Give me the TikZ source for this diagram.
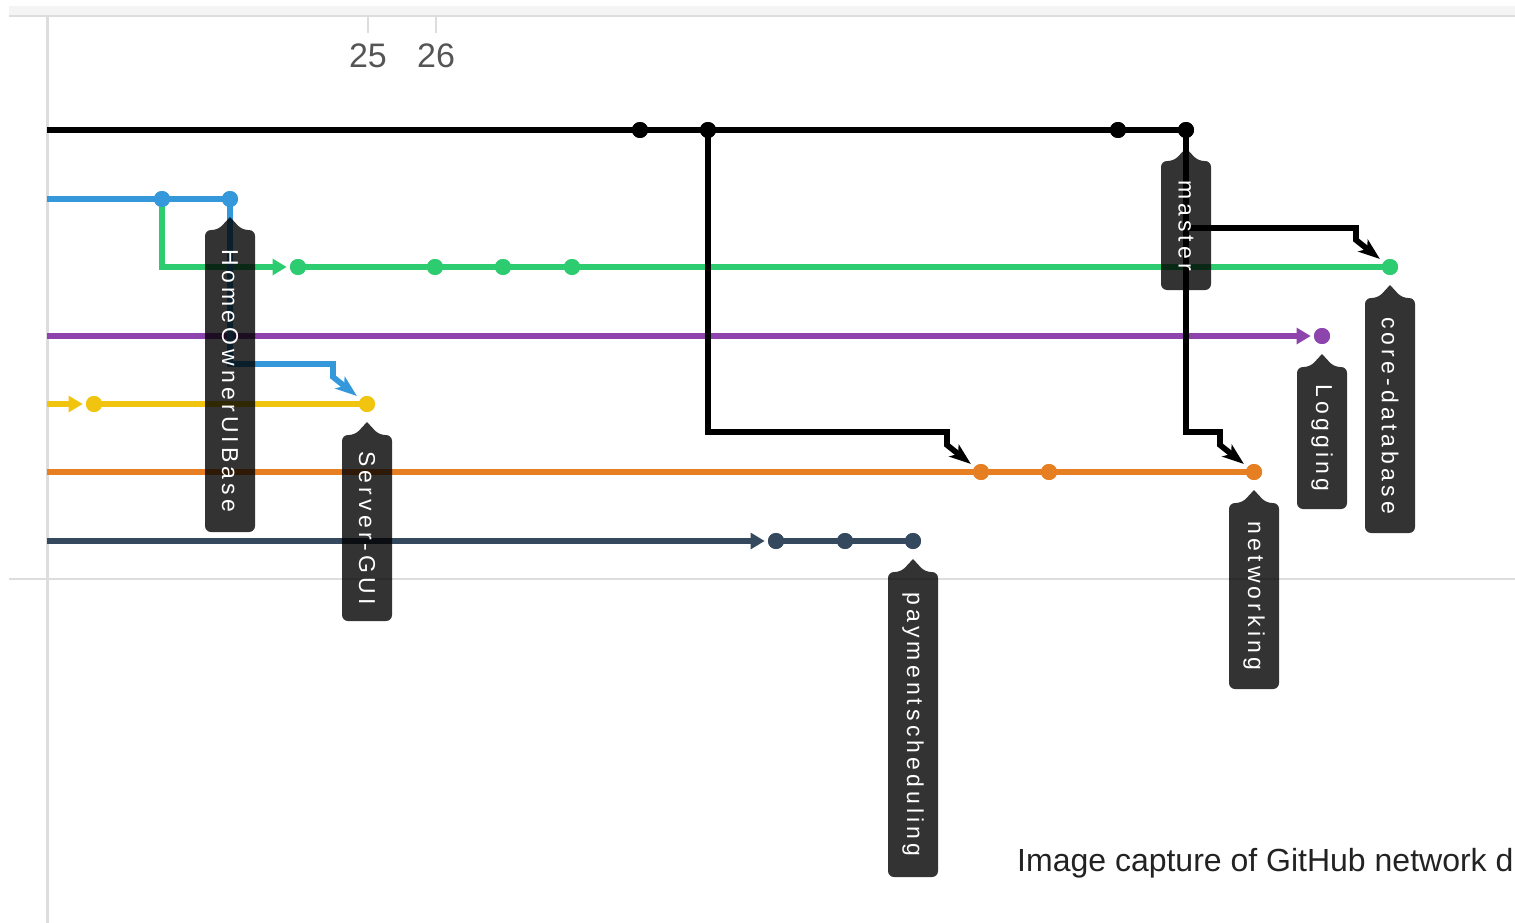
\documentclass[tikz,border=0pt]{standalone}
\usepackage{fontspec}
\setmainfont{Liberation Sans}
\newfontfamily\tagfamily[LetterSpace=18]{Liberation Sans}
\usetikzlibrary{arrows.meta,calc}

\definecolor{cM}{HTML}{000000}
\definecolor{cB}{HTML}{3498DB}
\definecolor{cG}{HTML}{2ECC71}
\definecolor{cP}{HTML}{8E44AD}
\definecolor{cY}{HTML}{F1C40F}
\definecolor{cO}{HTML}{E67E22}
\definecolor{cN}{HTML}{34495E}
\definecolor{gridgray}{HTML}{DDDDDD}
\definecolor{bandgray}{HTML}{F4F4F4}
\definecolor{axisgray}{HTML}{555555}
\definecolor{capgray}{HTML}{222222}

% branch tag: name, centre x, commit y, bottom y, text
\newcommand\branchtag[5]{%
  \fill[tagbox] ({#2},{#3+18}) -- ({#2+12},{#3+31}) -- ({#2+25},{#3+31})
    -- ({#2+25},{#4}) -- ({#2-25},{#4}) -- ({#2-25},{#3+31})
    -- ({#2-12},{#3+31}) -- ({#2},{#3+18});
  \node[tagtext] (#1) at ({#2},{(#3+31+#4)/2}) {#5};
}

\begin{document}
\begin{tikzpicture}[x=1pt,y=-1pt,
  dot/.style={circle, inner sep=0pt, outer sep=0pt, minimum size=16pt, fill=#1},
  lane/.style={line width=5.7pt, draw=#1},
  inarrow/.style={-{Triangle[length=14pt,width=17pt,line width=0pt]}, shorten >=3.5pt},
  merge/.style={line width=5.7pt, draw=#1, line join=miter,
    -{Stealth[length=22pt,width=16pt,inset=6pt,line width=0pt]}, shorten >=5pt},
  tagbox/.style={fill=black, fill opacity=0.8, rounded corners=6pt},
  tagtext/.style={text=white, rotate=-90, inner sep=0pt,
    font=\tagfamily\fontsize{23}{23}\selectfont},
  axislabel/.style={text=axisgray, anchor=base, inner sep=0pt,
    font=\fontsize{34}{34}\selectfont},
  gridline/.style={draw=gridgray, line width=#1}
]
\useasboundingbox (0,0) rectangle (1515,923);

% frame of the graph area
\fill[bandgray] (9,6) rectangle (1515,15);
\draw[gridline=2.5pt] (9,16) -- (1515,16);
\draw[gridline=3pt] (47.5,16) -- (47.5,923);
\draw[gridline=2.5pt] (9,579) -- (1515,579);
\draw[gridline=2pt] (368,16) -- (368,33);
\draw[gridline=2pt] (436,16) -- (436,33);
\node[axislabel] (d25) at (368,68) {25};
\node[axislabel] (d26) at (436,68) {26};

% commits
\node[dot=cM] (m1) at (640,130) {};
\node[dot=cM] (m2) at (708,130) {};
\node[dot=cM] (m3) at (1118,130) {};
\node[dot=cM] (m4) at (1186,130) {};
\node[dot=cB] (b1) at (162,199) {};
\node[dot=cB] (b2) at (230,199) {};
\node[dot=cG] (g1) at (298,267) {};
\node[dot=cG] (g2) at (435,267) {};
\node[dot=cG] (g3) at (503,267) {};
\node[dot=cG] (g4) at (572,267) {};
\node[dot=cG] (g5) at (1390,267) {};
\node[dot=cP] (p1) at (1322,336) {};
\node[dot=cY] (y1) at (94,404) {};
\node[dot=cY] (y2) at (367,404) {};
\node[dot=cO] (o1) at (981,472) {};
\node[dot=cO] (o2) at (1049,472) {};
\node[dot=cO] (o3) at (1254,472) {};
\node[dot=cN] (n1) at (776,541) {};
\node[dot=cN] (n2) at (845,541) {};
\node[dot=cN] (n3) at (913,541) {};

% lanes entering from the left edge
\coordinate (mS) at (47,130);
\coordinate (bS) at (47,199);
\coordinate (pS) at (47,336);
\coordinate (yS) at (47,404);
\coordinate (oS) at (47,472);
\coordinate (nS) at (47,541);

\draw[lane=cM] (mS) -- (m4.center);
\draw[lane=cB] (bS) -- (b2.center);
\draw[lane=cG, inarrow] (b1.center) |- (g1);
\draw[lane=cG] (g1.center) -- (g5.center);
\draw[lane=cP, inarrow] (pS) -- (p1);
\draw[lane=cY, inarrow] (yS) -- (y1);
\draw[lane=cY] (y1.center) -- (y2.center);
\draw[lane=cO] (oS) -- (o3.center);
\draw[lane=cN, inarrow] (nS) -- (n1);
\draw[lane=cN] (n1.center) -- (n3.center);

% merges
\draw[merge=cB] (b2.center) |- ($(y2)+(-34,-40)$) -- ($(y2)+(-34,-27)$) -- (y2);
\draw[merge=cM] (m2.center) |- ($(o1)+(-34,-40)$) -- ($(o1)+(-34,-27)$) -- (o1);
\draw[merge=cM] (m4.center) |- ($(o3)+(-34,-40)$) -- ($(o3)+(-34,-27)$) -- (o3);
\draw[merge=cM] (m4.center) |- ($(g5)+(-34,-39)$) -- ($(g5)+(-34,-27)$) -- (g5);

% redraw commits above the lanes
\foreach \c/\n in {cM/m1,cM/m2,cM/m3,cM/m4,cB/b1,cB/b2,cG/g1,cG/g2,cG/g3,cG/g4,cG/g5,
  cP/p1,cY/y1,cY/y2,cO/o1,cO/o2,cO/o3,cN/n1,cN/n2,cN/n3}
  \fill[\c] (\n) circle[radius=8pt];

% branch tags
\branchtag{tagmaster}{1186}{130}{290}{master}
\branchtag{taghome}{230}{199}{532}{HomeOwnerUIBase}
\branchtag{tagcore}{1390}{267}{533}{core-database}
\branchtag{taglog}{1322}{336}{509}{Logging}
\branchtag{tagserver}{367}{404}{621}{Server-GUI}
\branchtag{tagnet}{1254}{472}{689}{networking}
\branchtag{tagpay}{913}{541}{877}{paymentscheduling}

\node[anchor=base west, inner sep=0pt, text=capgray, font=\fontsize{32}{32}\selectfont]
  (caption) at (1017,871) {Image capture of GitHub network d};
\end{tikzpicture}
\end{document}
